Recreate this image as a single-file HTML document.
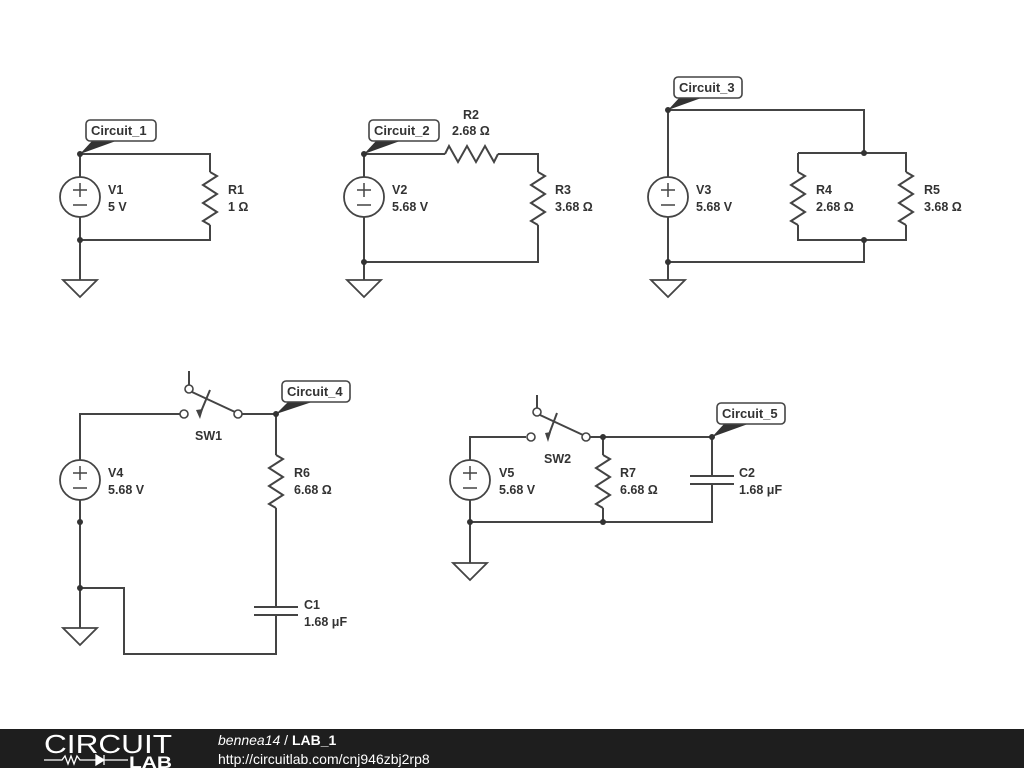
<!DOCTYPE html>
<html><head><meta charset="utf-8"><style>
html,body{margin:0;padding:0;background:#fff;width:1024px;height:768px;overflow:hidden}
svg{display:block}
text{font-family:"Liberation Sans",sans-serif;font-weight:bold;font-size:12.5px;fill:#333}
.w{stroke:#444;stroke-width:2;fill:none}
.lb{font-size:13px}
</style></head><body>
<svg width="1024" height="768" viewBox="0 0 1024 768">
<defs>
<g id="src"><circle cx="0" cy="0" r="20" fill="#fff" stroke="#444" stroke-width="1.8"/><path d="M-7 -7H7M0 -14V0M-7 8H7" stroke="#444" stroke-width="1.5"/></g>
<g id="gnd"><path d="M-17 0H17L0 17Z" fill="#fff" stroke="#444" stroke-width="1.8"/></g>
<g id="rv"><polyline class="w" points="0,0 7,4 -7,13 7,22 -7,31 7,40 -7,49 0,53" /></g>
<g id="rh"><polyline class="w" points="0,0 4,-8 13,8 22,-8 31,8 40,-8 49,8 53,0" /></g>
</defs>

<!-- Circuit 1 -->
<path class="w" d="M80 154V177M80 217V280M80 154H210V172M210 225V240H80"/>
<use href="#src" x="80" y="197"/><use href="#rv" x="210" y="172"/><use href="#gnd" x="80" y="280"/>
<circle cx="80" cy="154" r="3" fill="#333"/><circle cx="80" cy="240" r="3" fill="#333"/>
<path d="M80 154L92 141H116Z" fill="#333"/>
<rect x="86" y="120" width="70" height="21" rx="4" fill="#fff" stroke="#444" stroke-width="1.6"/>
<text x="91" y="135" class="lb">Circuit_1</text>
<text x="108" y="194">V1</text><text x="108" y="211">5 V</text>
<text x="228" y="194">R1</text><text x="228" y="211">1 Ω</text>

<!-- Circuit 2 -->
<path class="w" d="M364 154V177M364 217V280M364 154H445M498 154H538V172M538 225V262H364"/>
<use href="#src" x="364" y="197"/><use href="#rh" x="445" y="154"/><use href="#rv" x="538" y="172"/><use href="#gnd" x="364" y="280"/>
<circle cx="364" cy="154" r="3" fill="#333"/><circle cx="364" cy="262" r="3" fill="#333"/>
<path d="M364 154L376 141H400Z" fill="#333"/>
<rect x="369" y="120" width="70" height="21" rx="4" fill="#fff" stroke="#444" stroke-width="1.6"/>
<text x="374" y="135" class="lb">Circuit_2</text>
<text x="463" y="119">R2</text><text x="452" y="135">2.68 Ω</text>
<text x="392" y="194">V2</text><text x="392" y="211">5.68 V</text>
<text x="555" y="194">R3</text><text x="555" y="211">3.68 Ω</text>

<!-- Circuit 3 -->
<path class="w" d="M668 110V177M668 217V280M668 110H864V153M798 153H906V172M798 153V172M798 225V240H906V225M864 240V262H668"/>
<use href="#src" x="668" y="197"/><use href="#rv" x="798" y="172"/><use href="#rv" x="906" y="172"/><use href="#gnd" x="668" y="280"/>
<circle cx="668" cy="110" r="3" fill="#333"/><circle cx="864" cy="153" r="3" fill="#333"/><circle cx="864" cy="240" r="3" fill="#333"/><circle cx="668" cy="262" r="3" fill="#333"/>
<path d="M668 110L680 97H704Z" fill="#333"/>
<rect x="674" y="77" width="68" height="21" rx="4" fill="#fff" stroke="#444" stroke-width="1.6"/>
<text x="679" y="92" class="lb">Circuit_3</text>
<text x="696" y="194">V3</text><text x="696" y="211">5.68 V</text>
<text x="816" y="194">R4</text><text x="816" y="211">2.68 Ω</text>
<text x="924" y="194">R5</text><text x="924" y="211">3.68 Ω</text>

<!-- Circuit 4 -->
<path class="w" d="M80 500V414H180M242 414H276V455M276 508V607M254 607H298M254 615H298M276 615V654H124V588H80M80 500V628"/>
<use href="#src" x="80" y="480"/><use href="#rv" x="276" y="455"/><use href="#gnd" x="80" y="628"/>
<circle cx="184" cy="414" r="4" fill="#fff" stroke="#444" stroke-width="1.6"/>
<circle cx="238" cy="414" r="4" fill="#fff" stroke="#444" stroke-width="1.6"/>
<circle cx="189" cy="389" r="4" fill="#fff" stroke="#444" stroke-width="1.6"/>
<path class="w" d="M189 371V385M192 392L235 412M210 390L200 414"/>
<path d="M196 410L200 419L203 409Z" fill="#444"/>
<circle cx="276" cy="414" r="3" fill="#333"/><circle cx="80" cy="522" r="3" fill="#333"/><circle cx="80" cy="588" r="3" fill="#333"/>
<path d="M276 414L288 402H312Z" fill="#333"/>
<rect x="282" y="381" width="68" height="21" rx="4" fill="#fff" stroke="#444" stroke-width="1.6"/>
<text x="287" y="396" class="lb">Circuit_4</text>
<text x="195" y="440">SW1</text>
<text x="108" y="477">V4</text><text x="108" y="494">5.68 V</text>
<text x="294" y="477">R6</text><text x="294" y="494">6.68 Ω</text>
<text x="304" y="609">C1</text><text x="304" y="626">1.68 μF</text>

<!-- Circuit 5 -->
<path class="w" d="M470 460V437H526M590 437H712V476M690 476H734M690 484H734M712 484V522H470M470 500V563M603 437V455M603 508V522"/>
<use href="#src" x="470" y="480"/><use href="#rv" x="603" y="455"/><use href="#gnd" x="470" y="563"/>
<circle cx="531" cy="437" r="4" fill="#fff" stroke="#444" stroke-width="1.6"/>
<circle cx="586" cy="437" r="4" fill="#fff" stroke="#444" stroke-width="1.6"/>
<circle cx="537" cy="412" r="4" fill="#fff" stroke="#444" stroke-width="1.6"/>
<path class="w" d="M537 395V408M540 415L583 435M557 413L548 437"/>
<path d="M545 433L548 442L551 432Z" fill="#444"/>
<circle cx="603" cy="437" r="3" fill="#333"/><circle cx="712" cy="437" r="3" fill="#333"/><circle cx="603" cy="522" r="3" fill="#333"/><circle cx="470" cy="522" r="3" fill="#333"/>
<path d="M712 437L724 424H748Z" fill="#333"/>
<rect x="717" y="403" width="68" height="21" rx="4" fill="#fff" stroke="#444" stroke-width="1.6"/>
<text x="722" y="418" class="lb">Circuit_5</text>
<text x="544" y="463">SW2</text>
<text x="499" y="477">V5</text><text x="499" y="494">5.68 V</text>
<text x="620" y="477">R7</text><text x="620" y="494">6.68 Ω</text>
<text x="739" y="477">C2</text><text x="739" y="494">1.68 μF</text>

<!-- Footer -->
<rect x="0" y="729" width="1024" height="39" fill="#1e1e1e"/>
<text x="44" y="753" textLength="128" lengthAdjust="spacingAndGlyphs" style="font-weight:normal;font-size:26px;fill:#fff">CIRCUIT</text>
<polyline points="44,760 62,760 65,756 68,764 71,756 74,764 77,756 80,760 96,760" fill="none" stroke="#fff" stroke-width="1.3"/>
<path d="M96 755V765L104 760Z M104 755V765" fill="#fff" stroke="#fff" stroke-width="1.3"/>
<path d="M104 760H128" stroke="#fff" stroke-width="1.3"/>
<text x="129" y="768" textLength="43" lengthAdjust="spacingAndGlyphs" style="font-size:17px;font-weight:bold;fill:#fff">LAB</text>
<text x="218" y="745" style="font-weight:normal;font-size:14px;fill:#fff"><tspan font-style="italic">bennea14</tspan> / <tspan font-weight="bold">LAB_1</tspan></text>
<text x="218" y="764" style="font-weight:normal;font-size:14px;fill:#fff">http://circuitlab.com/cnj946zbj2rp8</text>
</svg>
</body></html>
